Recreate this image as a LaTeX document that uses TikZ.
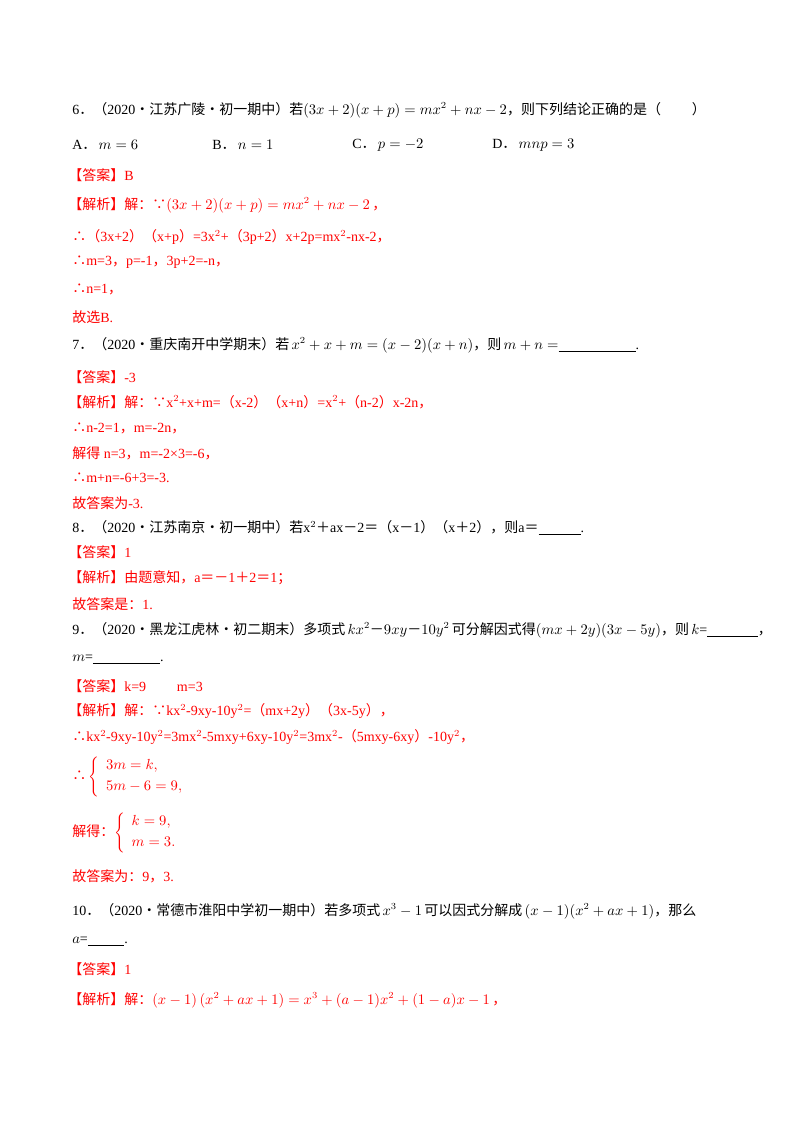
\documentclass[tikz,border=0pt]{standalone}
\usepackage{fontspec}
\setmainfont{Liberation Serif}
\newfontfamily\cjk{Noto Sans CJK SC}
\definecolor{ans}{HTML}{FF0000}
\newcommand{\C}[1]{{\cjk #1}}
\begin{document}
\begin{tikzpicture}[x=0.75pt,y=-0.75pt,
  t/.style={anchor=west,inner sep=0pt,font=\fontsize{10.5pt}{12pt}\selectfont},
  r/.style={t,text=ans}]
\useasboundingbox (0,0) rectangle (800,1132);
\node[t] (q6) at (72,110) {6\C{．（}2020\C{·江苏广陵·初一期中）若}$(3x+2)(x+p)=mx^2+nx-2$\C{，则下列结论正确的是（\hspace{2.2em}）}};
\node[t] (a6) at (72,145) {A\C{．}\,$m=6$};
\node[t] (b6) at (212,145) {B\C{．}\,$n=1$};
\node[t] (c6) at (352,145) {C\C{．}\,$p=-2$};
\node[t] (d6) at (492,145) {D\C{．}\,$mnp=3$};
\node[r] (k6) at (68,175) {\C{【答案】}B};
\node[r] (j6) at (68,205) {\C{【解析】解：∵}$(3x+2)(x+p)=mx^2+nx-2$\,\C{，}};
\node[r] (l61) at (72,237) {\C{∴（}3x+2\C{）（}x+p\C{）}=3x$^2$+\C{（}3p+2\C{）}x+2p=mx$^2$-nx-2\C{，}};
\node[r] (l62) at (72,262) {\C{∴}m=3\C{，}p=-1\C{，}3p+2=-n\C{，}};
\node[r] (l63) at (72,289) {\C{∴}n=1\C{，}};
\node[r] (l64) at (72,317) {\C{故选}B.};
\node[t] (q7) at (72,345) {7\C{．（}2020\C{·重庆南开中学期末）若}\,$x^2+x+m=(x-2)(x+n)$\C{，则}\,$m+n=$\underline{\hspace{5.5em}}.};
\node[r] (k7) at (68,377) {\C{【答案】}-3};
\node[r] (j7) at (68,402) {\C{【解析】解：∵}x$^2$+x+m=\C{（}x-2\C{）（}x+n\C{）}=x$^2$+\C{（}n-2\C{）}x-2n\C{，}};
\node[r] (l71) at (72,428) {\C{∴}n-2=1\C{，}m=-2n\C{，}};
\node[r] (l72) at (72,453) {\C{解得} n=3\C{，}m=-2×3=-6\C{，}};
\node[r] (l73) at (72,478) {\C{∴}m+n=-6+3=-3.};
\node[r] (l74) at (72,503) {\C{故答案为}-3.};
\node[t] (q8) at (72,528) {8\C{．（}2020\C{·江苏南京·初一期中）若}x$^2$\C{＋}ax\C{－}2\C{＝（}x\C{－}1\C{）（}x\C{＋}2\C{），则}a\C{＝}\underline{\hspace{3em}}.};
\node[r] (k8) at (68,552) {\C{【答案】}1};
\node[r] (j8) at (68,578) {\C{【解析】由题意知，}a\C{＝－}1\C{＋}2\C{＝}1\C{；}};
\node[r] (l81) at (72,604) {\C{故答案是：}1.};
\node[t] (q9) at (72,630) {9\C{．（}2020\C{·黑龙江虎林·初二期末）多项式}\,$kx^2$\C{－}$9xy$\C{－}$10y^2$\,\C{可分解因式得}$(mx+2y)(3x-5y)$\C{，则}\,$k$=\underline{\hspace{3.6em}}\C{，}};
\node[t] (q9b) at (72,660) {$m$=\underline{\hspace{4.8em}}.};
\node[r] (k9) at (68,686) {\C{【答案】}k=9\hspace{2.2em}m=3};
\node[r] (j9) at (68,711) {\C{【解析】解：∵}kx$^2$-9xy-10y$^2$=\C{（}mx+2y\C{）（}3x-5y\C{），}};
\node[r] (l91) at (72,737) {\C{∴}kx$^2$-9xy-10y$^2$=3mx$^2$-5mxy+6xy-10y$^2$=3mx$^2$-\C{（}5mxy-6xy\C{）}-10y$^2$\C{，}};
\node[r] (l92) at (72,777) {\C{∴}\,$\left\{\begin{array}{l}3m=k,\\[4pt]5m-6=9,\end{array}\right.$};
\node[r] (l93) at (72,833) {\C{解得：}$\left\{\begin{array}{l}k=9,\\[4pt]m=3.\end{array}\right.$};
\node[r] (l94) at (72,876) {\C{故答案为：}9\C{，}3.};
\node[t] (q10) at (72,911) {10\C{．（}2020\C{·常德市淮阳中学初一期中）若多项式}\,$x^3-1$\,\C{可以因式分解成}\,$(x-1)(x^2+ax+1)$\C{，那么}};
\node[t] (q10b) at (72,942) {$a$=\underline{\hspace{2.6em}}.};
\node[r] (k10) at (68,969) {\C{【答案】}1};
\node[r] (j10) at (68,1000) {\C{【解析】解：}$(x-1)\left(x^2+ax+1\right)=x^3+(a-1)x^2+(1-a)x-1$\,\C{，}};
\end{tikzpicture}
\end{document}
